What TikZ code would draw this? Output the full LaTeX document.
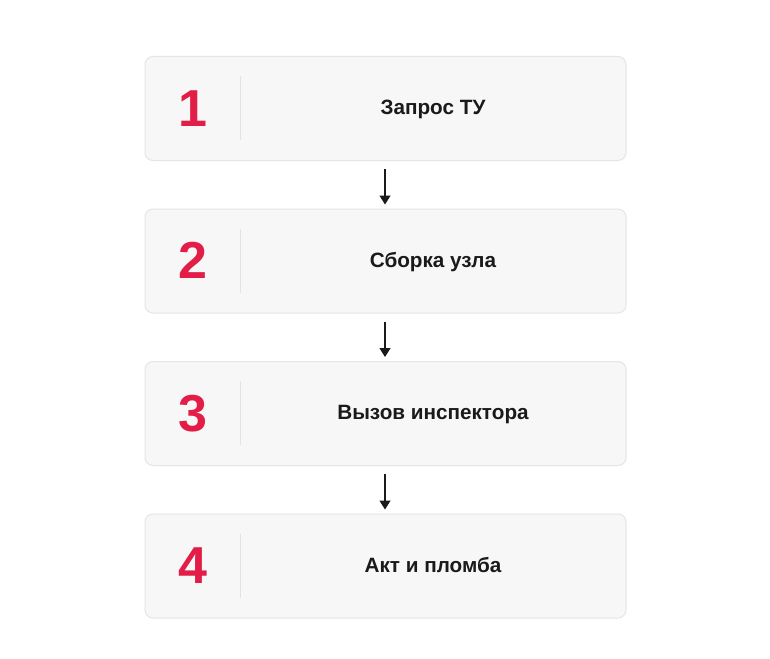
\documentclass[tikz,border=0pt]{standalone}
\usepackage{fontspec}
\setmainfont{Liberation Sans}
\usetikzlibrary{arrows.meta}
\definecolor{numred}{HTML}{E11D48}
\definecolor{boxfill}{HTML}{F7F7F7}
\definecolor{boxline}{HTML}{E5E5E5}
\definecolor{divline}{HTML}{E3E3E3}
\definecolor{ink}{HTML}{1A1A1A}
\tikzset{
  stepbox/.style={draw=boxline, line width=1pt, fill=boxfill, rounded corners=8pt, minimum width=481pt, minimum height=104pt, inner sep=0pt, anchor=north west},
  numlabel/.style={text=numred, font=\fontsize{52}{52}\selectfont\bfseries, inner sep=0pt, anchor=base},
  steplabel/.style={text=ink, font=\fontsize{20.7}{24}\selectfont\bfseries, inner sep=0pt, anchor=base},
  divider/.style={draw=divline, line width=1pt},
  flow/.style={draw=ink, line width=1.2pt, -{Triangle[length=9pt,width=11pt]}}
}
\begin{document}
\begin{tikzpicture}[x=1pt,y=-1pt]
\useasboundingbox[fill=white] (0,0) rectangle (770,658);
\foreach \i/\t in {1/{Запрос ТУ},2/{Сборка узла},3/{Вызов инспектора},4/{Акт и пломба}}{
  \pgfmathsetmacro{\top}{56+152.5*(\i-1)}
  \node[stepbox] (b\i) at (144.5,\top) {};
  \node[numlabel] (n\i) at (192.5,\top+70) {\i};
  \draw[divider] (240.5,\top+20) coordinate (d\i a) -- (240.5,\top+84) coordinate (d\i b);
  \node[steplabel] (t\i) at (433,\top+58.5) {\t};
}
\foreach \i/\j in {1/2,2/3,3/4}{
  \coordinate (a\i) at ([yshift=-8pt]b\i.south);
  \coordinate (e\i) at ([yshift=4pt]b\j.north);
  \draw[flow] (a\i-|385,0) -- (e\i-|385,0);
}
\end{tikzpicture}
\end{document}
